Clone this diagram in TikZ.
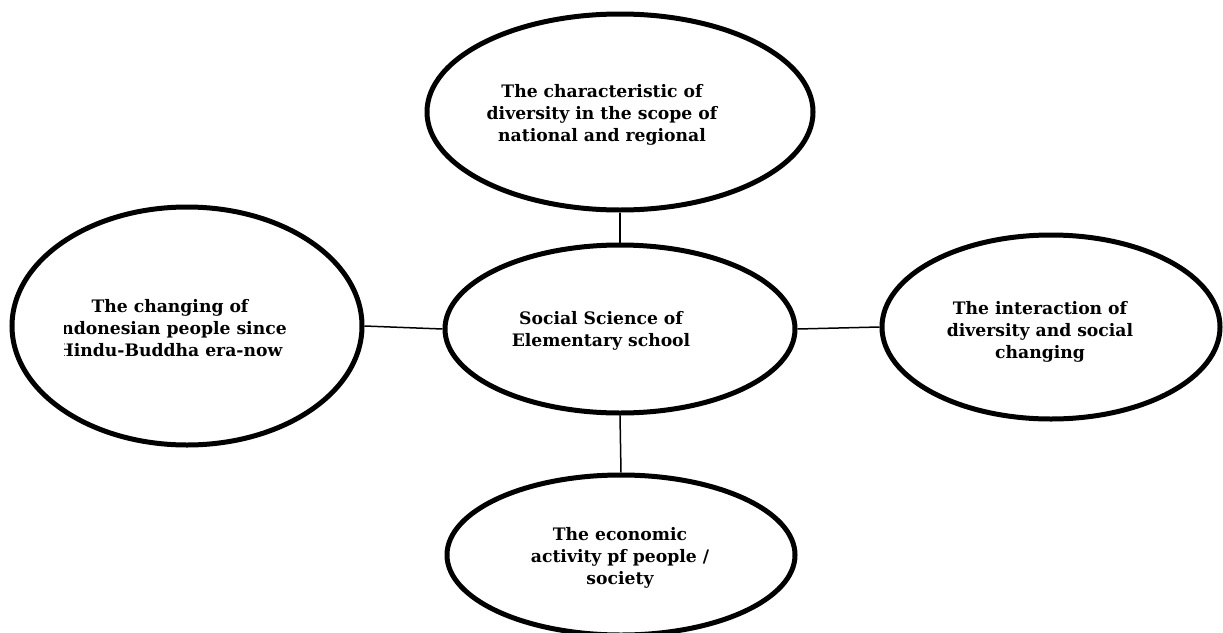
\documentclass[tikz,border=0pt]{standalone}
\usepackage{fontspec}
\setmainfont{DejaVu Serif}
\usetikzlibrary{shapes.geometric}
\begin{document}
\begin{tikzpicture}[x=1pt,y=-1pt,
  oval/.style={draw=black,line width=5pt,ellipse,inner sep=0pt,fill=white},
  conn/.style={draw=black,line width=1.5pt},
  lbl/.style={align=center,font=\fontsize{17.2}{22}\selectfont\bfseries,inner sep=0pt}]
\useasboundingbox (0,0) rectangle (1223,632);
\fill[white] (0,0) rectangle (1223,632);
% ellipses
\node[oval,minimum width=386pt,minimum height=196pt] (T) at (620,112) {};
\node[oval,minimum width=350pt,minimum height=168pt] (C) at (620,329) {};
\node[oval,minimum width=350pt,minimum height=238pt] (L) at (187,326) {};
\node[oval,minimum width=338pt,minimum height=184pt] (R) at (1051,327) {};
\node[oval,minimum width=348pt,minimum height=160pt] (B) at (621,555) {};
% connectors
\draw[conn] (T.south) -- (C.north);
\draw[conn] (C.south) -- (B.north);
\draw[conn] (L.east) -- (C.west);
\draw[conn] (C.east) -- (R.west);
% labels
\node[lbl] (Tt) at (602,115) {The characteristic of\\diversity in the scope of\\national and regional};
\node[lbl] (Ct) at (601,331) {Social Science of\\Elementary school};
\node[lbl] (Rt) at (1040,332) {The interaction of\\diversity and social\\changing};
\node[lbl] (Bt) at (620,558) {The economic\\activity pf people /\\society};
\begin{scope}
\clip (64,250) rectangle (360,400);
\node[lbl] (Lt) at (170,328) {The changing of\\Indonesian people since\\Hindu-Buddha era-now};
\end{scope}
\end{tikzpicture}
\end{document}
